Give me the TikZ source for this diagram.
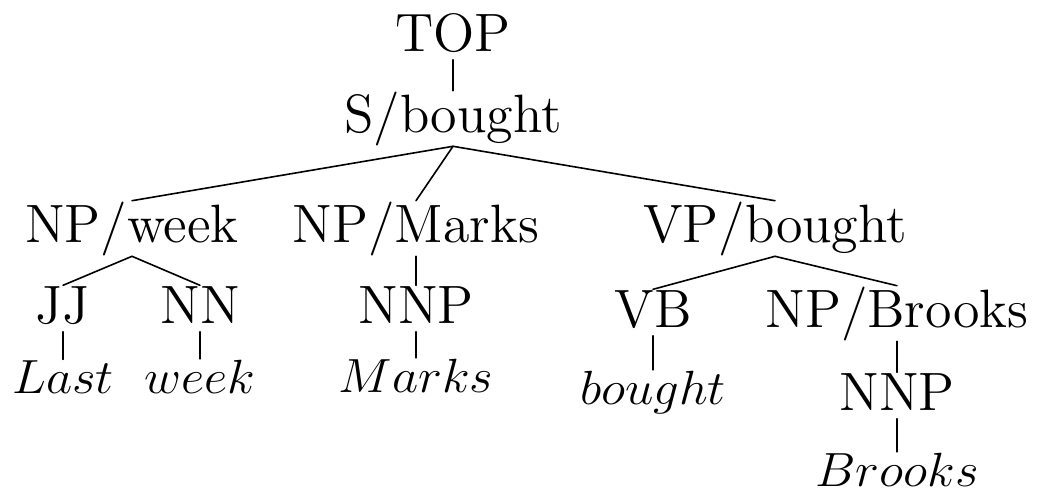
\documentclass[tikz,border=0pt]{standalone}
\tikzset{
  phrase/.style={inner sep=0pt, anchor=base, font=\fontsize{13.5}{16}\selectfont},
  tag/.style={phrase, text depth=2pt},
  word/.style={inner sep=0pt, anchor=base, xscale=1.06, font=\fontsize{12}{14}\selectfont}
}
\begin{document}
\begin{tikzpicture}[x=0.25pt, y=-0.25pt, line cap=round]
		\useasboundingbox (0,0) rectangle (1039,493);
		% tree labels
		\node[tag] (top) at (453,51) {TOP};
		\node[phrase] (s) at (453,132) {S/bought};
		\node[phrase] (npweek) at (132,242) {NP/week};
		\node[phrase] (npmarks) at (416,242) {NP/Marks};
		\node[phrase] (vp) at (775,242) {VP/bought};
		\node[tag] (jj) at (63,323) {JJ};
		\node[tag] (nn) at (200,323) {NN};
		\node[tag] (nnpmarks) at (416,323) {NNP};
		\node[tag] (vb) at (653,327) {VB};
		\node[phrase] (npbrooks) at (897,327) {NP/Brooks};
		\node[tag] (nnpbrooks) at (897,410) {NNP};
		% words
		\node[word] (last) at (63,393) {$Last$};
		\node[word] (week) at (200,393) {$week$};
		\node[word] (marks) at (416,392) {$Marks$};
		\node[word] (bought) at (653,404) {$bought$};
		\node[word] (brooks) at (897,486) {$Brooks$};
		% branches
		\foreach \p/\c in {top/s, s/npweek, s/npmarks, s/vp, npweek/jj, npweek/nn, npmarks/nnpmarks, vp/vb, vp/npbrooks, npbrooks/nnpbrooks, jj/last, nn/week, nnpmarks/marks, vb/bought, nnpbrooks/brooks}
			\draw (\p.south)--(\c.north);
\end{tikzpicture}
\end{document}
